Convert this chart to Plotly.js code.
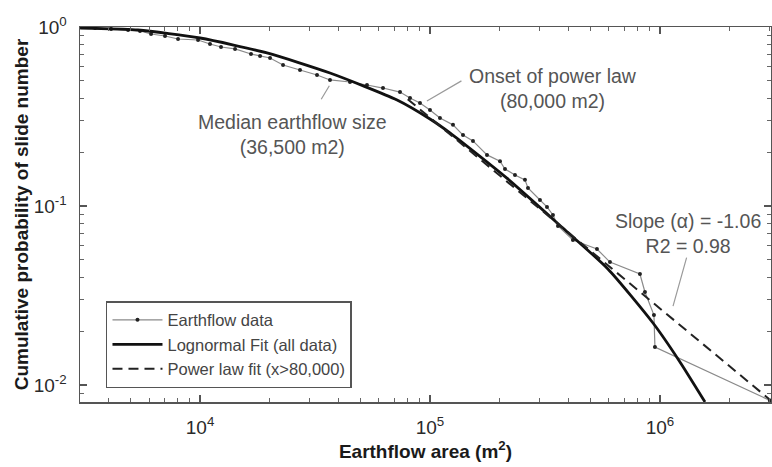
<!DOCTYPE html>
<html>
<head>
<meta charset="utf-8">
<script src="https://cdn.plot.ly/plotly-3.0.1.min.js"></script>
<style>html,body{margin:0;padding:0;background:#fff;}#chart{width:772px;height:467px;}</style>
</head>
<body>
<div id="chart"></div>
<script>
// Earthflow data (area in m2, cumulative probability)
const earthflowArea = [3008, 3496, 4103, 4864, 5483, 6124, 7043, 8023, 9802, 11050, 12340, 14200, 16660, 18240, 20160, 22960, 27210, 32270, 36740, 44890, 53220, 62480, 74070, 81870, 90480, 100000, 110500, 125900, 139200, 153800, 177000, 201600, 211900, 234200, 258800, 266800, 300800, 322700, 342600, 360200, 418500, 532200, 606200, 818500, 860500, 941700, 951200, 3008000];
const earthflowProb = [1.0, 0.987, 0.975, 0.962, 0.950, 0.914, 0.891, 0.857, 0.846, 0.804, 0.773, 0.754, 0.707, 0.689, 0.671, 0.613, 0.575, 0.539, 0.506, 0.493, 0.474, 0.456, 0.433, 0.401, 0.376, 0.344, 0.310, 0.284, 0.249, 0.231, 0.193, 0.178, 0.161, 0.149, 0.140, 0.126, 0.108, 0.0988, 0.0891, 0.0773, 0.0646, 0.0575, 0.0486, 0.0417, 0.0331, 0.0246, 0.0163, 0.0082];

// Lognormal fit (all data)
const lognormArea = [3010, 5370, 10000, 19550, 36740, 71940, 100000, 122100, 216000, 378500, 594000, 933000, 1220000, 1570000];
const lognormProb = [0.987, 0.962, 0.868, 0.716, 0.553, 0.391, 0.306, 0.256, 0.143, 0.0753, 0.0445, 0.0222, 0.0135, 0.00804];

// Power law fit (x > 80,000)
const powerArea = [80000, 3000000];
const powerProb = [0.395, 0.0083];

// Tick labels
const xTickVals = [1e4, 1e5, 1e6];
const xTickText = ['10<sup>4</sup>', '10<sup>5</sup>', '10<sup>6</sup>'];
const yTickVals = [0.01, 0.1, 1];
const yTickText = ['10<sup>-2</sup>', '10<sup>-1</sup>', '10<sup>0</sup>'];

const seriesNames = ['Earthflow data', 'Lognormal Fit (all data)', 'Power law fit (x>80,000)'];

const L = Math.log10;
const FONT = 'Liberation Sans, Arial, Helvetica, sans-serif';

const traces = [
  {
    x: earthflowArea, y: earthflowProb, name: seriesNames[0],
    type: 'scatter', mode: 'lines+markers',
    line: {color: '#8a8a8a', width: 1.2},
    marker: {color: '#222', size: 4}
  },
  {
    x: lognormArea, y: lognormProb, name: seriesNames[1],
    type: 'scatter', mode: 'lines', line: {color: '#111', width: 2.8, shape: 'spline', smoothing: 0.6}
  },
  {
    x: powerArea, y: powerProb, name: seriesNames[2],
    type: 'scatter', mode: 'lines', line: {color: '#222', width: 2, dash: '10px,6px'}
  }
];

const axisCommon = {
  type: 'log', showgrid: false, zeroline: false,
  showline: true, linecolor: '#555', linewidth: 1.5, mirror: 'ticks',
  ticks: 'inside', ticklen: 7, tickwidth: 1.2, tickcolor: '#555',
  tickmode: 'array',
  minor: {ticks: 'inside', ticklen: 4, tickwidth: 1, tickcolor: '#666', dtick: 'D1', showgrid: false},
  tickfont: {family: FONT, size: 19, color: '#2a2a2a'},
  ticklabelstandoff: 8
};

const arrowTips = [
  {x: 36500, y: 0.47, ax: -9, ay: 15},
  {x: 97000, y: 0.386, ax: 36, ay: -21},
  {x: 1140000, y: 0.0276, ax: 14, ay: -50}
];

const annotations = [];
arrowTips.forEach(a => {
  annotations.push({x: L(a.x), y: L(a.y), xref: 'x', yref: 'y', text: '', showarrow: true,
    ax: a.ax, ay: a.ay, arrowhead: 0, arrowwidth: 1.2, arrowcolor: '#9a9a9a'});
  const n = Math.hypot(a.ax, a.ay);
  annotations.push({x: L(a.x), y: L(a.y), xref: 'x', yref: 'y', text: '', showarrow: true,
    ax: a.ax / n * 3, ay: a.ay / n * 3, arrowhead: 2, arrowsize: 1.4, arrowwidth: 1.2, arrowcolor: '#111'});
});

const textFont = {family: FONT, size: 19.5, color: '#555'};
annotations.push({x: 4.404, y: -0.603, xref: 'x', yref: 'y', showarrow: false,
  text: 'Median earthflow size<br>(36,500 m2)', font: textFont, align: 'center'});
annotations.push({x: 5.535, y: -0.341, xref: 'x', yref: 'y', showarrow: false,
  text: 'Onset of power law<br>(80,000 m2)', font: textFont, align: 'center'});
annotations.push({x: 6.122, y: -1.151, xref: 'x', yref: 'y', showarrow: false,
  text: 'Slope (α) = -1.06<br>R2 = 0.98', font: textFont, align: 'center'});

const layout = {
  width: 772, height: 467,
  margin: {l: 80, r: 1, t: 27, b: 65},
  paper_bgcolor: '#fff', plot_bgcolor: '#fff',
  font: {family: FONT, color: '#222'},
  xaxis: Object.assign({}, axisCommon, {
    range: [3.478, 6.483], tickvals: xTickVals, ticktext: xTickText,
    title: {text: 'Earthflow area (m<sup>2</sup>)', font: {family: FONT, size: 19, color: '#1a1a1a', weight: 'bold'}, standoff: 3}
  }),
  yaxis: Object.assign({}, axisCommon, {
    range: [-2.095, 0], tickvals: yTickVals, ticktext: yTickText,
    title: {text: 'Cumulative probability of slide number', font: {family: FONT, size: 19, color: '#1a1a1a', weight: 'bold'}, standoff: 0}
  }),
  showlegend: true,
  legend: {
    x: 0.0376, y: 0.269, xanchor: 'left', yanchor: 'top',
    bgcolor: '#fff', bordercolor: '#555', borderwidth: 1.5,
    font: {family: FONT, size: 16.5, color: '#444'},
    itemwidth: 50, tracegroupgap: 0
  },
  annotations: annotations
};

Plotly.newPlot('chart', traces, layout, {displayModeBar: false, staticPlot: true});
</script>
</body>
</html>
